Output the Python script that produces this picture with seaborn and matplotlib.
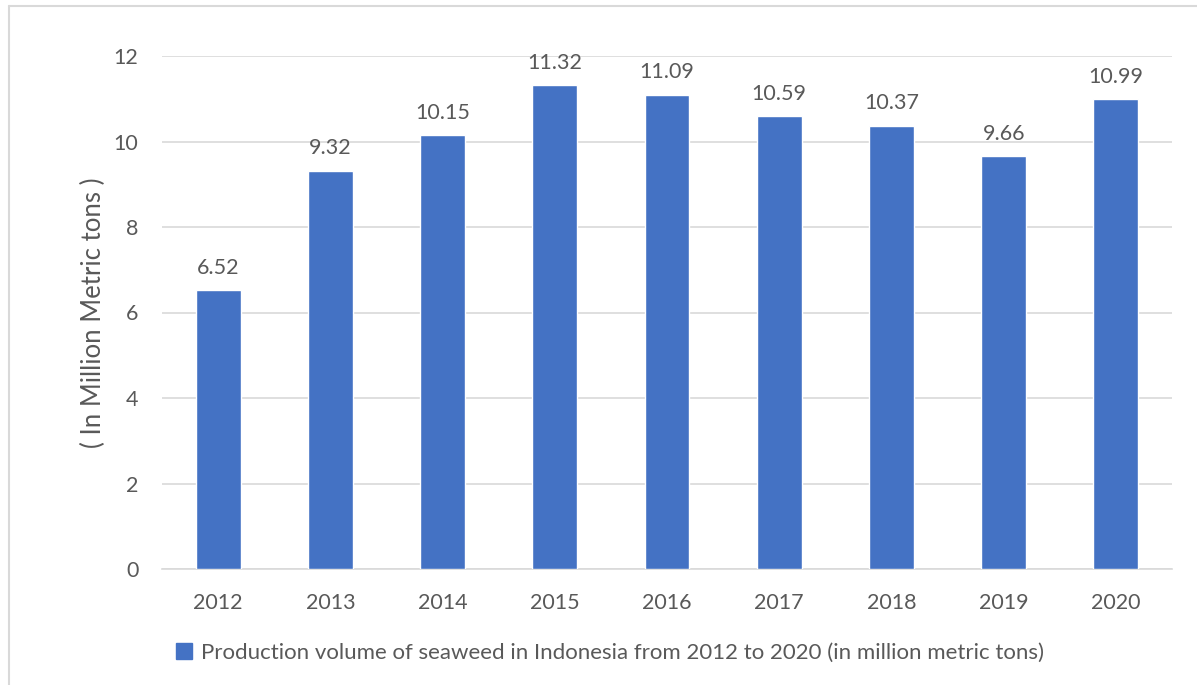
import matplotlib
matplotlib.use("Agg")
import matplotlib.pyplot as plt
import seaborn as sns
import pandas as pd
from matplotlib.lines import Line2D
from matplotlib.patches import Patch

years = ["2012", "2013", "2014", "2015", "2016", "2017", "2018", "2019", "2020"]
values = [6.52, 9.32, 10.15, 11.32, 11.09, 10.59, 10.37, 9.66, 10.99]
series_name = "Production volume of seaweed in Indonesia from 2012 to 2020 (in million metric tons)"
y_ticks = [0, 2, 4, 6, 8, 10, 12]

df = pd.DataFrame({"year": years, "value": values})

sns.set_theme(style="white")
plt.rcParams["font.family"] = ["Lato", "DejaVu Sans"]

W, H = 1197, 685
fig = plt.figure(figsize=(W / 100, H / 100), dpi=100)
ax = fig.add_axes([162 / W, 1 - 569 / H, (1172 - 162) / W, (569 - 56) / H])

blue = "#4472C4"
txt = "#595959"
grid = "#D9D9D9"
fs = 15.5

sns.barplot(data=df, x="year", y="value", color=blue, width=0.4, ax=ax,
            saturation=1, zorder=3)

ax.set_ylim(0, 12)
ax.set_xlim(-0.5, len(years) - 0.5)
ax.set_yticks(y_ticks)
ax.set_yticklabels([str(t) for t in y_ticks], color=txt, fontsize=fs)
ax.tick_params(axis="x", colors=txt, labelsize=fs, length=0, pad=17)
ax.tick_params(axis="y", length=0, pad=17)
for lab in ax.get_xticklabels():
    lab.set_color(txt)
ax.yaxis.grid(True, color=grid, linewidth=1.2, zorder=0)
ax.set_axisbelow(True)
for s in ["top", "right", "left"]:
    ax.spines[s].set_visible(False)
ax.spines["bottom"].set_color(grid)
ax.spines["bottom"].set_linewidth(1.2)
ax.set_xlabel("")
ax.set_ylabel("( In Million Metric tons )", color=txt, fontsize=18.5)
ax.yaxis.set_label_coords((93 - 162) / 1010, 1 - (313 - 56) / 513)
ax.yaxis.label.set_va("center")

for i, v in enumerate(values):
    ax.annotate(f"{v:.2f}", (i, v), xytext=(0, 9), textcoords="offset points",
                ha="center", va="bottom", color=txt, fontsize=fs)

handles = [Patch(facecolor=blue, edgecolor=blue)]
fig.legend(handles, [series_name], loc="center", bbox_to_anchor=(610 / W, 1 - 653 / H),
           frameon=False, fontsize=16, labelcolor=txt, handlelength=0.7, handleheight=0.7,
           handletextpad=0.4)

# outer chart border (left and top visible)
fig.add_artist(Line2D([8.5 / W, 8.5 / W], [0, 1 - 5.5 / H], transform=fig.transFigure,
                      color=grid, linewidth=1.5))
fig.add_artist(Line2D([8.5 / W, 1], [1 - 5.5 / H, 1 - 5.5 / H], transform=fig.transFigure,
                      color=grid, linewidth=1.5))

fig.savefig("out.png", dpi=100)
